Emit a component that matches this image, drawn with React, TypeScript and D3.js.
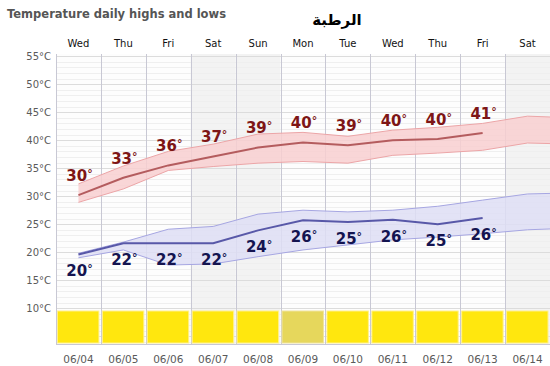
import React, { useEffect, useRef } from 'react';
import * as d3 from 'd3';

const days = ['Wed', 'Thu', 'Fri', 'Sat', 'Sun', 'Mon', 'Tue', 'Wed', 'Thu', 'Fri', 'Sat'];
const dates = ['06/04', '06/05', '06/06', '06/07', '06/08', '06/09', '06/10', '06/11', '06/12', '06/13', '06/14'];
const weekend = [false, false, false, true, true, false, false, false, false, false, true];
const sky = ['sun', 'sun', 'sun', 'sun', 'sun', 'haze', 'sun', 'sun', 'sun', 'sun', 'sun'];

const highLine = [30.2, 33.3, 35.5, 37.1, 38.7, 39.6, 39.1, 40.0, 40.2, 41.3];
const highLabels = [30, 33, 36, 37, 39, 40, 39, 40, 40, 41];
const highUpper = [32.2, 35.4, 38.0, 39.3, 41.1, 41.4, 40.7, 41.8, 42.3, 43.0, 44.3, 44.0];
const highLower = [28.9, 31.3, 34.6, 35.3, 35.9, 36.2, 35.9, 37.3, 37.7, 38.2, 39.5, 39.3];

const lowLine = [19.6, 21.6, 21.6, 21.6, 23.9, 25.7, 25.4, 25.8, 25.0, 26.1];
const lowLabels = [20, 22, 22, 22, 24, 26, 25, 26, 25, 26];
const lowUpper = [19.8, 21.8, 24.1, 24.6, 26.8, 27.5, 27.2, 27.5, 28.2, 29.3, 30.4, 30.6];
const lowLower = [19.0, 20.4, 17.7, 17.9, 19.2, 20.4, 21.3, 22.2, 22.7, 23.3, 24.0, 24.3];

const yTicks = [10, 15, 20, 25, 30, 35, 40, 45, 50, 55];

const FONT = '"DejaVu Sans", Verdana, sans-serif';

const App: React.FC = () => {
  const ref = useRef<SVGSVGElement>(null);

  useEffect(() => {
    if (!ref.current) return;
    document.body.style.margin = '0';
    const svg = d3.select(ref.current);
    svg.selectAll('*').remove();

    const left = 56, right = 550, top = 54, bottom = 344;

    const x = d3.scaleBand<number>().domain(d3.range(days.length)).range([left, right]);
    const bw = x.bandwidth();
    const cx = (i: number) => left + (i + 0.5) * bw;
    const y = d3.scaleLinear().domain([3.6, 55.4]).range([bottom, top]);

    svg.append('defs').append('clipPath').attr('id', 'plot')
      .append('rect').attr('x', left).attr('y', top).attr('width', right - left).attr('height', bottom - top);

    // column backgrounds
    svg.selectAll('.col').data(days).enter().append('rect')
      .attr('x', (_, i) => x(i) as number)
      .attr('y', top).attr('width', bw).attr('height', bottom - top)
      .attr('fill', (_, i) => weekend[i] ? '#f3f3f3' : '#fdfdfd');

    // horizontal grid every degree
    const g = svg.append('g');
    d3.range(4, 56).forEach(t => {
      g.append('line')
        .attr('x1', left).attr('x2', right)
        .attr('y1', Math.round(y(t)) + 0.5).attr('y2', Math.round(y(t)) + 0.5)
        .attr('stroke', t % 5 === 0 ? '#dcdcdc' : '#efefef');
    });

    // vertical grid
    d3.range(days.length + 1).forEach(i => {
      const xx = Math.round(left + i * bw) + 0.5;
      g.append('line').attr('x1', xx).attr('x2', xx).attr('y1', top).attr('y2', bottom)
        .attr('stroke', '#c8c8d4');
    });
    g.append('line').attr('x1', left).attr('x2', right).attr('y1', bottom + 0.5).attr('y2', bottom + 0.5)
      .attr('stroke', '#c8c8d4');

    // y labels
    svg.selectAll('.yl').data(yTicks).enter().append('text')
      .attr('x', 51).attr('y', d => y(d) + 4)
      .attr('text-anchor', 'end')
      .style('font-family', FONT).style('font-size', '10px')
      .attr('fill', '#5a5a5a')
      .text(d => `${d}°C`);

    // sky boxes
    svg.selectAll('.sky').data(sky).enter().append('rect')
      .attr('x', (_, i) => (x(i) as number) + 1.5)
      .attr('y', 311).attr('width', bw - 3.5).attr('height', 32)
      .attr('fill', d => d === 'haze' ? '#e6d75c' : '#ffe70e')
      .attr('stroke', d => d === 'haze' ? '#efe39c' : '#fff08a');

    const plot = svg.append('g').attr('clip-path', 'url(#plot)');

    const band = (up: number[], lo: number[]) => d3.area<number>()
      .x((_, i) => cx(i))
      .y0((_, i) => y(lo[i]))
      .y1(d => y(d))(up);

    const edge = (vals: number[]) => d3.line<number>().x((_, i) => cx(i)).y(d => y(d))(vals);

    // high band
    plot.append('path').attr('d', band(highUpper, highLower)).attr('fill', '#f8cfd0').attr('opacity', 0.85);
    plot.append('path').attr('d', edge(highUpper)).attr('fill', 'none').attr('stroke', '#eca5a7').attr('stroke-width', 1);
    plot.append('path').attr('d', edge(highLower)).attr('fill', 'none').attr('stroke', '#eca5a7').attr('stroke-width', 1);

    // low band
    plot.append('path').attr('d', band(lowUpper, lowLower)).attr('fill', '#dedef5').attr('opacity', 0.85);
    plot.append('path').attr('d', edge(lowUpper)).attr('fill', 'none').attr('stroke', '#a6a6e2').attr('stroke-width', 1);
    plot.append('path').attr('d', edge(lowLower)).attr('fill', 'none').attr('stroke', '#a6a6e2').attr('stroke-width', 1);

    plot.append('path').attr('d', edge(highLine)).attr('fill', 'none').attr('stroke', '#b45c5e').attr('stroke-width', 2);
    plot.append('path').attr('d', edge(lowLine)).attr('fill', 'none').attr('stroke', '#5858a8').attr('stroke-width', 2);

    const label = (vals: number[], pos: number[], dy: number, color: string) => {
      const t = svg.selectAll(null).data(vals).enter().append('text')
        .attr('x', (_, i) => cx(i) + 1)
        .attr('y', (_, i) => y(pos[i]) + dy)
        .attr('text-anchor', 'middle')
        .style('font-family', FONT).style('font-size', '15px').style('font-weight', 'bold')
        .attr('fill', color);
      t.append('tspan').text(d => `${d}`);
      t.append('tspan').attr('dy', -4).style('font-size', '11px').text('°');
    };
    label(highLabels, highLine, -14, '#7e1616');
    label(lowLabels, lowLine, 22, '#141450');

    // day names
    svg.selectAll('.day').data(days).enter().append('text')
      .attr('x', (_, i) => cx(i)).attr('y', 47)
      .attr('text-anchor', 'middle')
      .style('font-family', FONT).style('font-size', '10px')
      .attr('fill', '#111')
      .text(d => d);

    // dates
    svg.selectAll('.date').data(dates).enter().append('text')
      .attr('x', (_, i) => cx(i)).attr('y', 363)
      .attr('text-anchor', 'middle')
      .style('font-family', FONT).style('font-size', '10.5px')
      .attr('fill', '#5a5a5a')
      .text(d => d);

    svg.append('text').attr('x', 7).attr('y', 18)
      .style('font-family', FONT).style('font-size', '11.5px').style('font-weight', 'bold')
      .attr('fill', '#555')
      .text('Temperature daily highs and lows');

    svg.append('text').attr('x', 337).attr('y', 25)
      .attr('text-anchor', 'middle')
      .style('font-family', FONT).style('font-size', '15px').style('font-weight', 'bold')
      .attr('fill', '#000')
      .text('الرطبة');
  }, []);

  return <svg ref={ref} width={550} height={366} style={{ display: 'block', background: '#fff' }} />;
};

export default App;
